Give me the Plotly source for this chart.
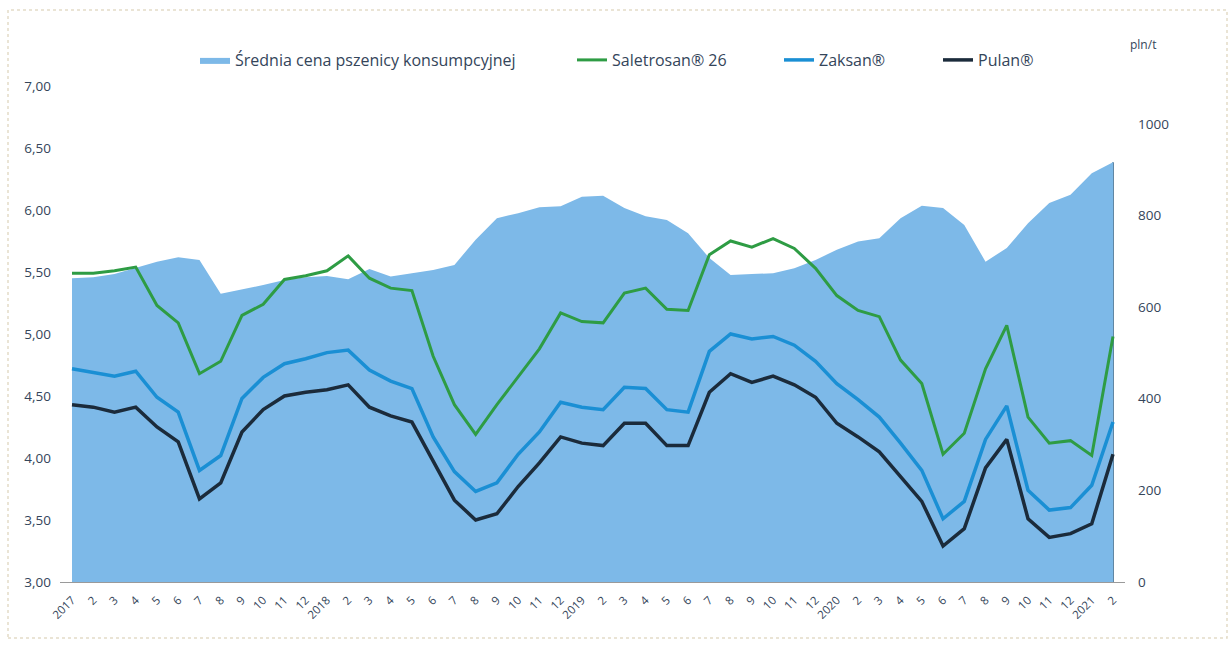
import plotly.graph_objects as go

# x-axis categories (months 2017-01 .. 2021-02)
tick_labels = ["2017", "2", "3", "4", "5", "6", "7", "8", "9", "10", "11", "12",
               "2018", "2", "3", "4", "5", "6", "7", "8", "9", "10", "11", "12",
               "2019", "2", "3", "4", "5", "6", "7", "8", "9", "10", "11", "12",
               "2020", "2", "3", "4", "5", "6", "7", "8", "9", "10", "11", "12",
               "2021", "2"]

# Average price of consumption wheat, pln/t (right axis)
wheat_price = [663, 665, 672, 685, 699, 709, 703, 629, 638, 648, 659, 665,
               668, 661, 683, 667, 674, 681, 692, 747, 794, 805, 818, 820,
               841, 843, 816, 798, 790, 761, 707, 670, 672, 674, 685, 703,
               725, 743, 750, 794, 821, 816, 779, 699, 729, 783, 827, 845,
               892, 916]

saletrosan = [5.49, 5.49, 5.51, 5.54, 5.23, 5.09, 4.68, 4.78, 5.15, 5.24, 5.44, 5.47,
              5.51, 5.63, 5.45, 5.37, 5.35, 4.82, 4.43, 4.19, 4.43, 4.66, 4.88, 5.17,
              5.10, 5.09, 5.33, 5.37, 5.20, 5.19, 5.64, 5.75, 5.70, 5.77, 5.69, 5.53,
              5.31, 5.19, 5.14, 4.79, 4.60, 4.03, 4.20, 4.72, 5.07, 4.33, 4.12, 4.14,
              4.02, 4.98]

zaksan = [4.72, 4.69, 4.66, 4.70, 4.49, 4.37, 3.90, 4.02, 4.48, 4.65, 4.76, 4.80,
          4.85, 4.87, 4.71, 4.62, 4.56, 4.17, 3.89, 3.73, 3.80, 4.03, 4.21, 4.45,
          4.41, 4.39, 4.57, 4.56, 4.39, 4.37, 4.86, 5.00, 4.96, 4.98, 4.91, 4.78,
          4.60, 4.47, 4.33, 4.12, 3.90, 3.51, 3.65, 4.15, 4.42, 3.74, 3.58, 3.60,
          3.78, 4.29]

pulan = [4.43, 4.41, 4.37, 4.41, 4.25, 4.13, 3.67, 3.80, 4.21, 4.39, 4.50, 4.53,
         4.55, 4.59, 4.41, 4.34, 4.29, 3.98, 3.66, 3.50, 3.55, 3.77, 3.96, 4.17,
         4.12, 4.10, 4.28, 4.28, 4.10, 4.10, 4.53, 4.68, 4.61, 4.66, 4.59, 4.49,
         4.28, 4.17, 4.05, 3.85, 3.65, 3.29, 3.43, 3.92, 4.15, 3.51, 3.36, 3.39,
         3.47, 4.03]

x = list(range(len(tick_labels)))
last = x[-1]

FONT = "Open Sans"
TXT = "#34455a"

fig = go.Figure()
# area on the base axis "y" (right side, pln/t), lines on overlaying "y2" (left side)
fig.add_trace(go.Scatter(
    x=x, y=wheat_price, yaxis="y", mode="lines", fill="tozeroy",
    line=dict(width=0, color="#7db9e8"), fillcolor="#7db9e8",
    name="Średnia cena pszenicy konsumpcyjnej", legend="legend", showlegend=True))
fig.add_trace(go.Scatter(
    x=x, y=saletrosan, yaxis="y2", mode="lines", line=dict(color="#2e9c44", width=3),
    name="Saletrosan® 26", legend="legend2", showlegend=True))
fig.add_trace(go.Scatter(
    x=x, y=zaksan, yaxis="y2", mode="lines", line=dict(color="#1a8fd4", width=3.5),
    name="Zaksan®", legend="legend3", showlegend=True))
fig.add_trace(go.Scatter(
    x=x, y=pulan, yaxis="y2", mode="lines", line=dict(color="#1b2b3b", width=3.5),
    name="Pulan®", legend="legend4", showlegend=True))

# dark shadow edges of the area
fig.add_shape(type="line", xref="x", yref="y", x0=0, x1=last, y0=0, y1=0,
              line=dict(color="#2c5f86", width=3), layer="below")
fig.add_shape(type="line", xref="x", yref="y", x0=last, x1=last, y0=0,
              y1=wheat_price[-1], line=dict(color="#2c5f86", width=1.5), layer="below")

W, L, R = 1232, 60, 1125
PW = R - L

def lx(px):
    return (px - L) / PW

def ly(py):
    return (582 - py) / 496

# scanned page border
fig.add_shape(type="rect", xref="paper", yref="paper",
              x0=lx(8), x1=lx(1227), y0=ly(638), y1=ly(10),
              line=dict(color="#e3dcc8", width=1.5, dash="dot"))

leg_common = dict(orientation="h", yanchor="middle", xanchor="left",
                  y=ly(60), bgcolor="rgba(0,0,0,0)",
                  font=dict(family=FONT, size=16, color=TXT),
                  itemwidth=30, tracegroupgap=0)

fig.update_layout(
    width=1232, height=668,
    margin=dict(l=L, r=W - R, t=86, b=86),
    paper_bgcolor="white", plot_bgcolor="white",
    separators=", ",
    font=dict(family=FONT, color=TXT),
    showlegend=True,
    legend=dict(leg_common, x=lx(195)),
    legend2=dict(leg_common, x=lx(572)),
    legend3=dict(leg_common, x=lx(779)),
    legend4=dict(leg_common, x=lx(938)),
    xaxis=dict(
        range=[-0.565, last + 0.565],
        tickmode="array", tickvals=x, ticktext=tick_labels,
        tickangle=-45, tickfont=dict(size=11.5, color=TXT, family=FONT),
        ticklabelstandoff=6,
        showgrid=False, zeroline=False,
        showline=True, linecolor="#9a9a9a", linewidth=1,
        ticks="", fixedrange=True),
    yaxis=dict(
        range=[0, 1082.5], tickvals=[0, 200, 400, 600, 800, 1000],
        tickformat="d", side="right", ticklabelstandoff=12,
        tickfont=dict(size=13.5, color=TXT, family=FONT),
        showgrid=False, zeroline=False, showline=False, ticks=""),
    yaxis2=dict(
        range=[3, 7], tickvals=[3, 3.5, 4, 4.5, 5, 5.5, 6, 6.5, 7],
        overlaying="y", side="left", ticklabelstandoff=8,
        tickformat=".2f", tickfont=dict(size=13.5, color=TXT, family=FONT),
        showgrid=False, zeroline=False, showline=False, ticks=""),
    annotations=[dict(text="pln/t", xref="paper", yref="paper",
                      x=lx(1158), y=ly(45), yanchor="middle", showarrow=False,
                      font=dict(size=12, color=TXT, family=FONT))],
)

fig.write_html("out.html", config={"displayModeBar": False},
               post_script="document.body.style.margin='0';document.body.style.padding='0';")
